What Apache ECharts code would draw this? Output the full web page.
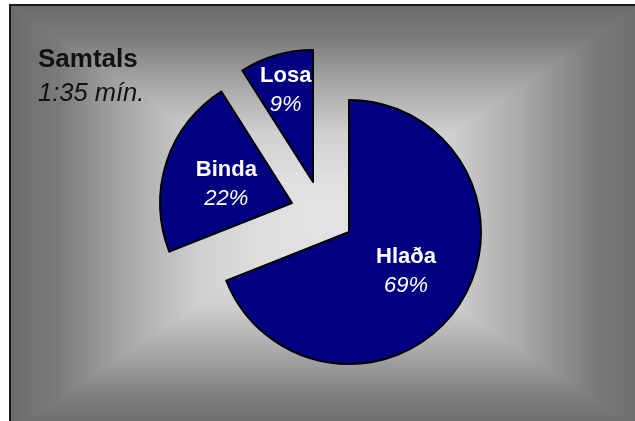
<!DOCTYPE html>
<html><head><meta charset="utf-8">
<script src="https://cdn.jsdelivr.net/npm/echarts@6/dist/echarts.min.js"></script>
<style>html,body{margin:0;padding:0;background:#fff}#c{width:635px;height:421px}</style>
</head><body><div id="c"></div>
<script>
const categories = ['Hlaða', 'Binda', 'Losa'];
const shares = [69, 22, 9];
const titleMain = 'Samtals';
const titleSub = '1:35 mín.';

const FONT = '"Liberation Sans", Arial, sans-serif';
const NAVY = '#000080';

// slice layout (exploded slices): each slice drawn by its own pie series
const sliceCenters = [[349, 232], [292, 203], [313, 182]];
const labelOffsets = [[0, 1], [0, 3], [-8, -25]];
const R = 132;

// rectangular "from centre" background gradient
const L = 11, T = 6, Rr = 640, B = 430, CX = 325.5, CY = 220;
const stops = [
  { offset: 0, color: '#6c6c6c' },
  { offset: 0.15, color: '#7b7b7b' },
  { offset: 0.35, color: '#a4a4a4' },
  { offset: 0.6, color: '#d0d0d0' },
  { offset: 0.8, color: '#dedede' },
  { offset: 1, color: '#e4e4e4' }
];
function lg(x, y, x2, y2) {
  return { type: 'linear', x: x, y: y, x2: x2, y2: y2, global: true, colorStops: stops };
}
const bg = [
  { type: 'rect', shape: { x: L, y: T, width: Rr - L, height: B - T }, style: { fill: '#b0b0b0' }, z: -10, silent: true },
  { type: 'polygon', shape: { points: [[L, T - 1], [CX + 1, CY], [L, B + 1]] }, style: { fill: lg(L, 0, CX, 0) }, z: -9, silent: true },
  { type: 'polygon', shape: { points: [[Rr, T - 1], [CX - 1, CY], [Rr, B + 1]] }, style: { fill: lg(Rr, 0, CX, 0) }, z: -9, silent: true },
  { type: 'polygon', shape: { points: [[L, T], [Rr, T], [CX, CY]] }, style: { fill: lg(0, T, 0, CY) }, z: -8, silent: true },
  { type: 'polygon', shape: { points: [[L, B], [Rr, B], [CX, CY]] }, style: { fill: lg(0, B, 0, CY) }, z: -8, silent: true },
  { type: 'rect', shape: { x: 10, y: 5, width: 700, height: 500 }, style: { fill: 'none', stroke: '#1a1a1a', lineWidth: 2 }, z: -5, silent: true },
  { type: 'text', x: 38, y: 60, style: { text: titleMain, font: 'bold 26px ' + FONT, fill: '#111', verticalAlign: 'middle', align: 'left' }, silent: true },
  { type: 'text', x: 38, y: 94, style: { text: titleSub, font: 'italic 25.5px ' + FONT, fill: '#111', verticalAlign: 'middle', align: 'left' }, silent: true }
];

const series = categories.map(function (_, i) {
  return {
    type: 'pie',
    center: sliceCenters[i],
    radius: [0, R],
    startAngle: 90,
    clockwise: true,
    silent: true,
    animation: false,
    avoidLabelOverlap: false,
    percentPrecision: 0,
    emphasis: { disabled: true },
    labelLine: { show: false },
    data: categories.map(function (name, j) {
      const on = j === i;
      return {
        name: name,
        value: shares[j],
        itemStyle: on ? { color: NAVY, borderColor: '#000', borderWidth: 2 } : { color: 'rgba(0,0,0,0)', borderWidth: 0 },
        label: on ? {
          show: true,
          position: 'inside',
          offset: labelOffsets[j],
          formatter: '{n|{b}}\n{p|{d}%}',
          rich: {
            n: { fontFamily: FONT, fontWeight: 'bold', fontSize: 22, color: '#fff', lineHeight: 29 },
            p: { fontFamily: FONT, fontStyle: 'italic', fontSize: 22, color: '#fff', lineHeight: 29 }
          }
        } : { show: false }
      };
    })
  };
});

const chart = echarts.init(document.getElementById('c'), null, { renderer: 'canvas' });
chart.setOption({
  backgroundColor: '#fff',
  animation: false,
  graphic: { elements: bg },
  series: series
});
</script></body></html>
